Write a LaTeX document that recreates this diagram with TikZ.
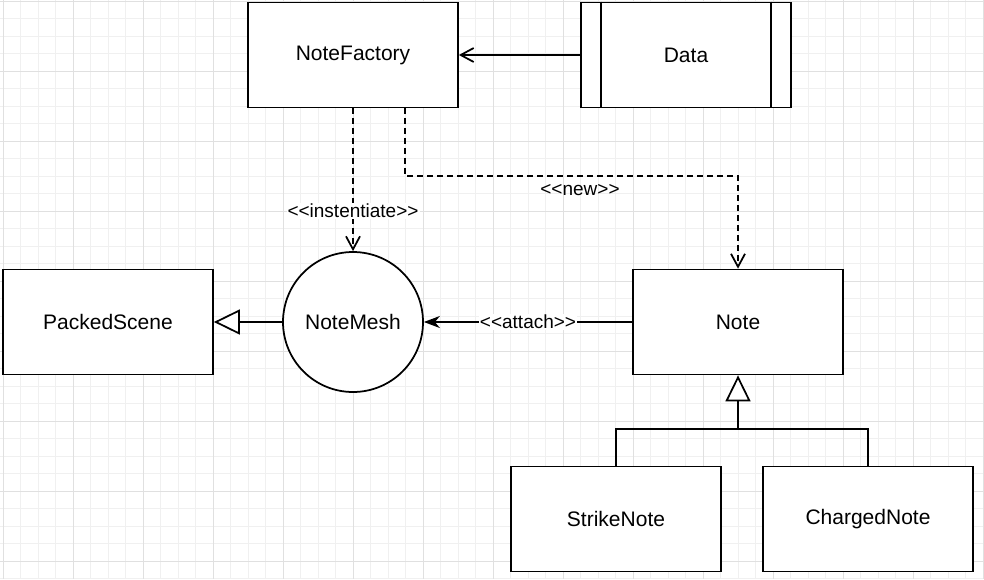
\documentclass[tikz,border=0pt]{standalone}
\usepackage{fontspec}
\setmainfont{Liberation Sans}
\usetikzlibrary{arrows.meta}
\begin{document}
\begin{tikzpicture}[x=1pt,y=-1pt,
  box/.style={draw, line width=1.75pt, minimum width=210pt, minimum height=105pt, inner sep=0pt, fill=white, font=\fontsize{21}{25}\selectfont},
  circ/.style={draw, circle, line width=1.75pt, minimum size=140pt, inner sep=0pt, fill=white, font=\fontsize{21}{25}\selectfont},
  conn/.style={line width=1.75pt},
  dashconn/.style={line width=1.75pt, dash pattern=on 5.5pt off 4.5pt},
  openarrow/.style={-{Straight Barb[length=13pt,width=14pt,line width=1.75pt]}},
  classic/.style={-{Stealth[length=16pt,width=12pt,inset=5pt]}},
  gen/.style={-{Triangle[length=26pt,width=25pt,fill=white,line width=1.75pt]}},
  lbl/.style={font=\fontsize{19}{23}\selectfont, inner sep=1pt},
  minorgrid/.style={draw=black!6, line width=0.8pt},
  majorgrid/.style={draw=black!12, line width=0.8pt}
]
\useasboundingbox (0,0) rectangle (984,579);
\fill[white] (0,0) rectangle (984,579);
% grid
\foreach \k in {0,...,56} { \draw[minorgrid] ({3+17.5*\k},0) -- ({3+17.5*\k},579); }
\foreach \k in {0,...,33} { \draw[minorgrid] (0,{1+17.5*\k}) -- (984,{1+17.5*\k}); }
\foreach \k in {0,...,14} { \draw[majorgrid] ({3+70*\k},0) -- ({3+70*\k},579); }
\foreach \k in {0,...,8} { \draw[majorgrid] (0,{1+70*\k}) -- (984,{1+70*\k}); }

% nodes
\node[box] (nf) at (353,55) {NoteFactory};
\node[box] (data) at (686,55) {Data};
\draw[line width=1.75pt] ([xshift=21pt]data.north west) -- ([xshift=21pt]data.south west);
\draw[line width=1.75pt] ([xshift=-21pt]data.north east) -- ([xshift=-21pt]data.south east);
\node[box] (ps) at (108,322) {PackedScene};
\node[circ] (mesh) at (353,322) {NoteMesh};
\node[box] (note) at (738,322) {Note};
\node[box] (strike) at (616,519) {StrikeNote};
\node[box] (charged) at (868,519) {ChargedNote};

% connectors
\draw[conn, openarrow] (data.west) -- (nf.east);
\draw[dashconn, openarrow] (nf.south) -- (mesh.north)
  node[lbl, pos=0.72, fill=white] (inst) {<{}<instentiate>{}>};
\coordinate (bend) at (738,176);
\draw[dashconn, openarrow] ([xshift=52pt]nf.south) |- (bend) -- (note.north);
\node[lbl] (newlbl) at (580,190) {<{}<new>{}>};
\draw[conn, classic] (note.west) -- (mesh.east)
  node[lbl, midway, fill=white] (att) {<{}<attach>{}>};
\draw[conn, gen] (mesh.west) -- (ps.east);
\coordinate (join) at (738,429);
\draw[conn] (strike.north) |- (join) -| (charged.north);
\draw[conn, gen] (join) -- (note.south);
\end{tikzpicture}
\end{document}
